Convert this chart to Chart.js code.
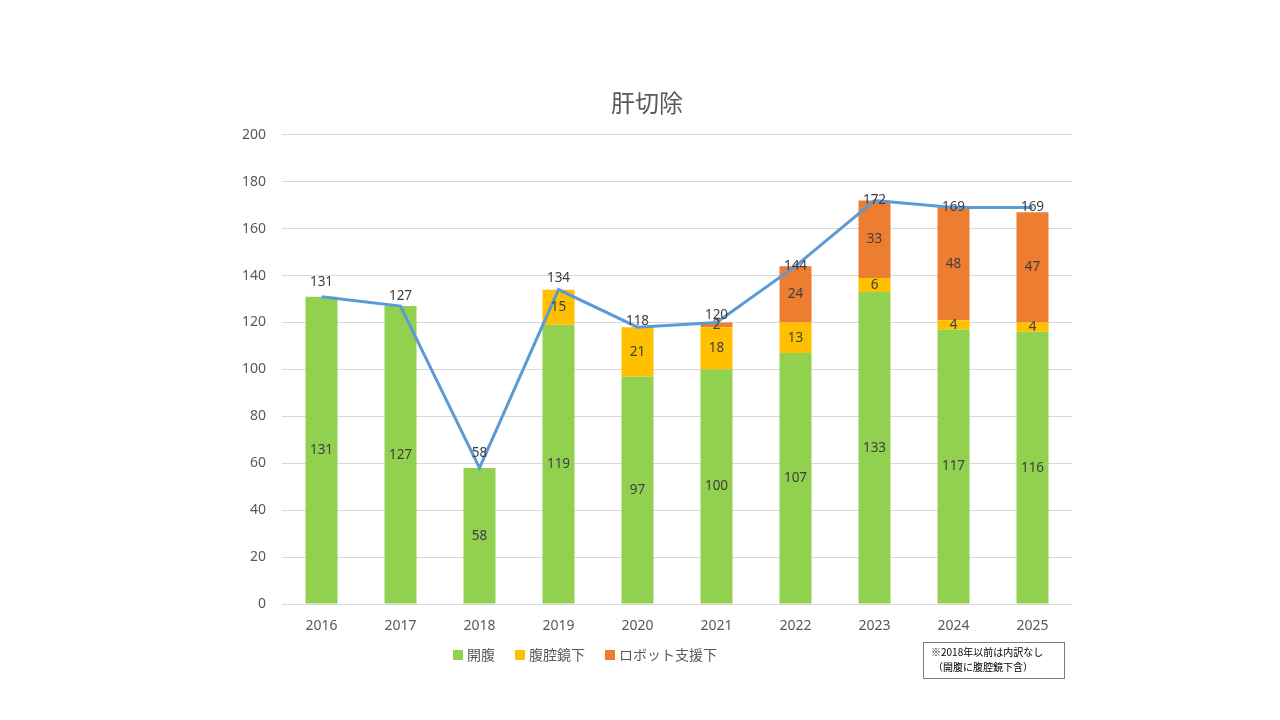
<!DOCTYPE html>
<html><head><meta charset="utf-8">
<script src="https://cdn.jsdelivr.net/npm/chart.js@4"></script>
<style>html,body{margin:0;padding:0;background:#fff}#wrap{width:1280px;height:720px}</style>
</head><body><div id="wrap"><canvas id="c" width="1280" height="720"></canvas></div>
<script>
const years = ['2016','2017','2018','2019','2020','2021','2022','2023','2024','2025'];
const openSurgery = [131,127,58,119,97,100,107,133,117,116];
const laparoscopic = [null,null,null,15,21,18,13,6,4,4];
const robotic = [null,null,null,null,null,2,24,33,48,47];
const totals = [131,127,58,134,118,120,144,172,169,169];
const yTicks = [0,20,40,60,80,100,120,140,160,180,200];
const seriesNames = ['開腹','腹腔鏡下','ロボット支援下','合計'];
const titleText = '肝切除';
const noteLines = ['※2018年以前は内訳なし','（開腹に腹腔鏡下含）'];

const FONT = '"Noto Sans", "Noto Sans CJK JP", sans-serif';
const lineLabelLift = [15,10,15,11,6,7,0,0,0,0];

const labelPlugin = {
  id: 'labels',
  afterDatasetsDraw(chart) {
    const ctx = chart.ctx;
    ctx.save();
    ctx.font = '13.5px ' + FONT;
    ctx.fillStyle = '#404040';
    ctx.textAlign = 'center';
    ctx.textBaseline = 'middle';
    chart.data.datasets.forEach((ds, di) => {
      const meta = chart.getDatasetMeta(di);
      meta.data.forEach((el, i) => {
        const v = ds.data[i];
        if (v == null) return;
        if (ds.type === 'line') {
          ctx.fillText(String(v), el.x, el.y - lineLabelLift[i]);
        } else {
          const cy = (el.y + el.base) / 2;
          ctx.fillText(String(v), el.x, cy);
        }
      });
    });
    ctx.restore();
  },
  afterDraw(chart) {
    const ctx = chart.ctx;
    ctx.save();
    // legend
    ctx.font = '14px "Noto Sans CJK JP", sans-serif';
    ctx.textBaseline = 'middle';
    ctx.textAlign = 'left';
    let x = 453;
    const ly = 655;
    [1, 2, 3].forEach((di) => {
      const ds = chart.data.datasets[di];
      ctx.fillStyle = ds.backgroundColor;
      ctx.fillRect(x, ly - 5, 10, 10);
      ctx.fillStyle = '#595959';
      ctx.fillText(ds.label, x + 14, ly);
      x += 14 + ctx.measureText(ds.label).width + 20;
    });
    // note box
    ctx.strokeStyle = '#7f7f7f';
    ctx.lineWidth = 1;
    ctx.strokeRect(923.5, 642.5, 141, 36);
    ctx.fillStyle = '#000';
    ctx.font = '10px "Noto Sans CJK JP", sans-serif';
    ctx.fillText(noteLines[0], 931, 652);
    ctx.fillText(noteLines[1], 933, 667);
    ctx.restore();
  }
};

new Chart(document.getElementById('c'), {
  data: {
    labels: years,
    datasets: [
      { type: 'line', label: seriesNames[3], data: totals, borderColor: '#5B9BD5', borderWidth: 3, pointRadius: 0, tension: 0, stack: 'total', order: 0 },
      { type: 'bar', label: seriesNames[0], data: openSurgery, backgroundColor: '#92D050', stack: 's', order: 1, categoryPercentage: 0.405, barPercentage: 1 },
      { type: 'bar', label: seriesNames[1], data: laparoscopic, backgroundColor: '#FFC000', stack: 's', order: 1, categoryPercentage: 0.405, barPercentage: 1 },
      { type: 'bar', label: seriesNames[2], data: robotic, backgroundColor: '#ED7D31', stack: 's', order: 1, categoryPercentage: 0.405, barPercentage: 1 }
    ]
  },
  options: {
    responsive: false,
    animation: false,
    layout: { padding: { left: 222, right: 208, top: 88, bottom: 80 } },
    plugins: {
      title: { display: true, text: titleText, color: '#595959', font: { family: '"Noto Sans CJK JP", sans-serif', size: 24, weight: 'normal' }, padding: { top: 0, bottom: 18 } },
      legend: { display: false },
      tooltip: { enabled: false }
    },
    scales: {
      x: {
        stacked: true,
        grid: { display: false },
        border: { display: false },
        ticks: { color: '#595959', font: { family: FONT, size: 14 }, padding: 6 },
        afterFit: (s) => { s.height = 36; }
      },
      y: {
        stacked: true,
        min: 0, max: 200,
        afterBuildTicks: (s) => { s.ticks = yTicks.map(v => ({ value: v })); },
        grid: { color: '#D9D9D9', drawTicks: false },
        border: { display: false },
        ticks: { color: '#595959', font: { family: FONT, size: 14 }, padding: 16 },
        afterFit: (s) => { s.width = 60; }
      }
    }
  },
  plugins: [labelPlugin]
});
</script>
</body></html>
